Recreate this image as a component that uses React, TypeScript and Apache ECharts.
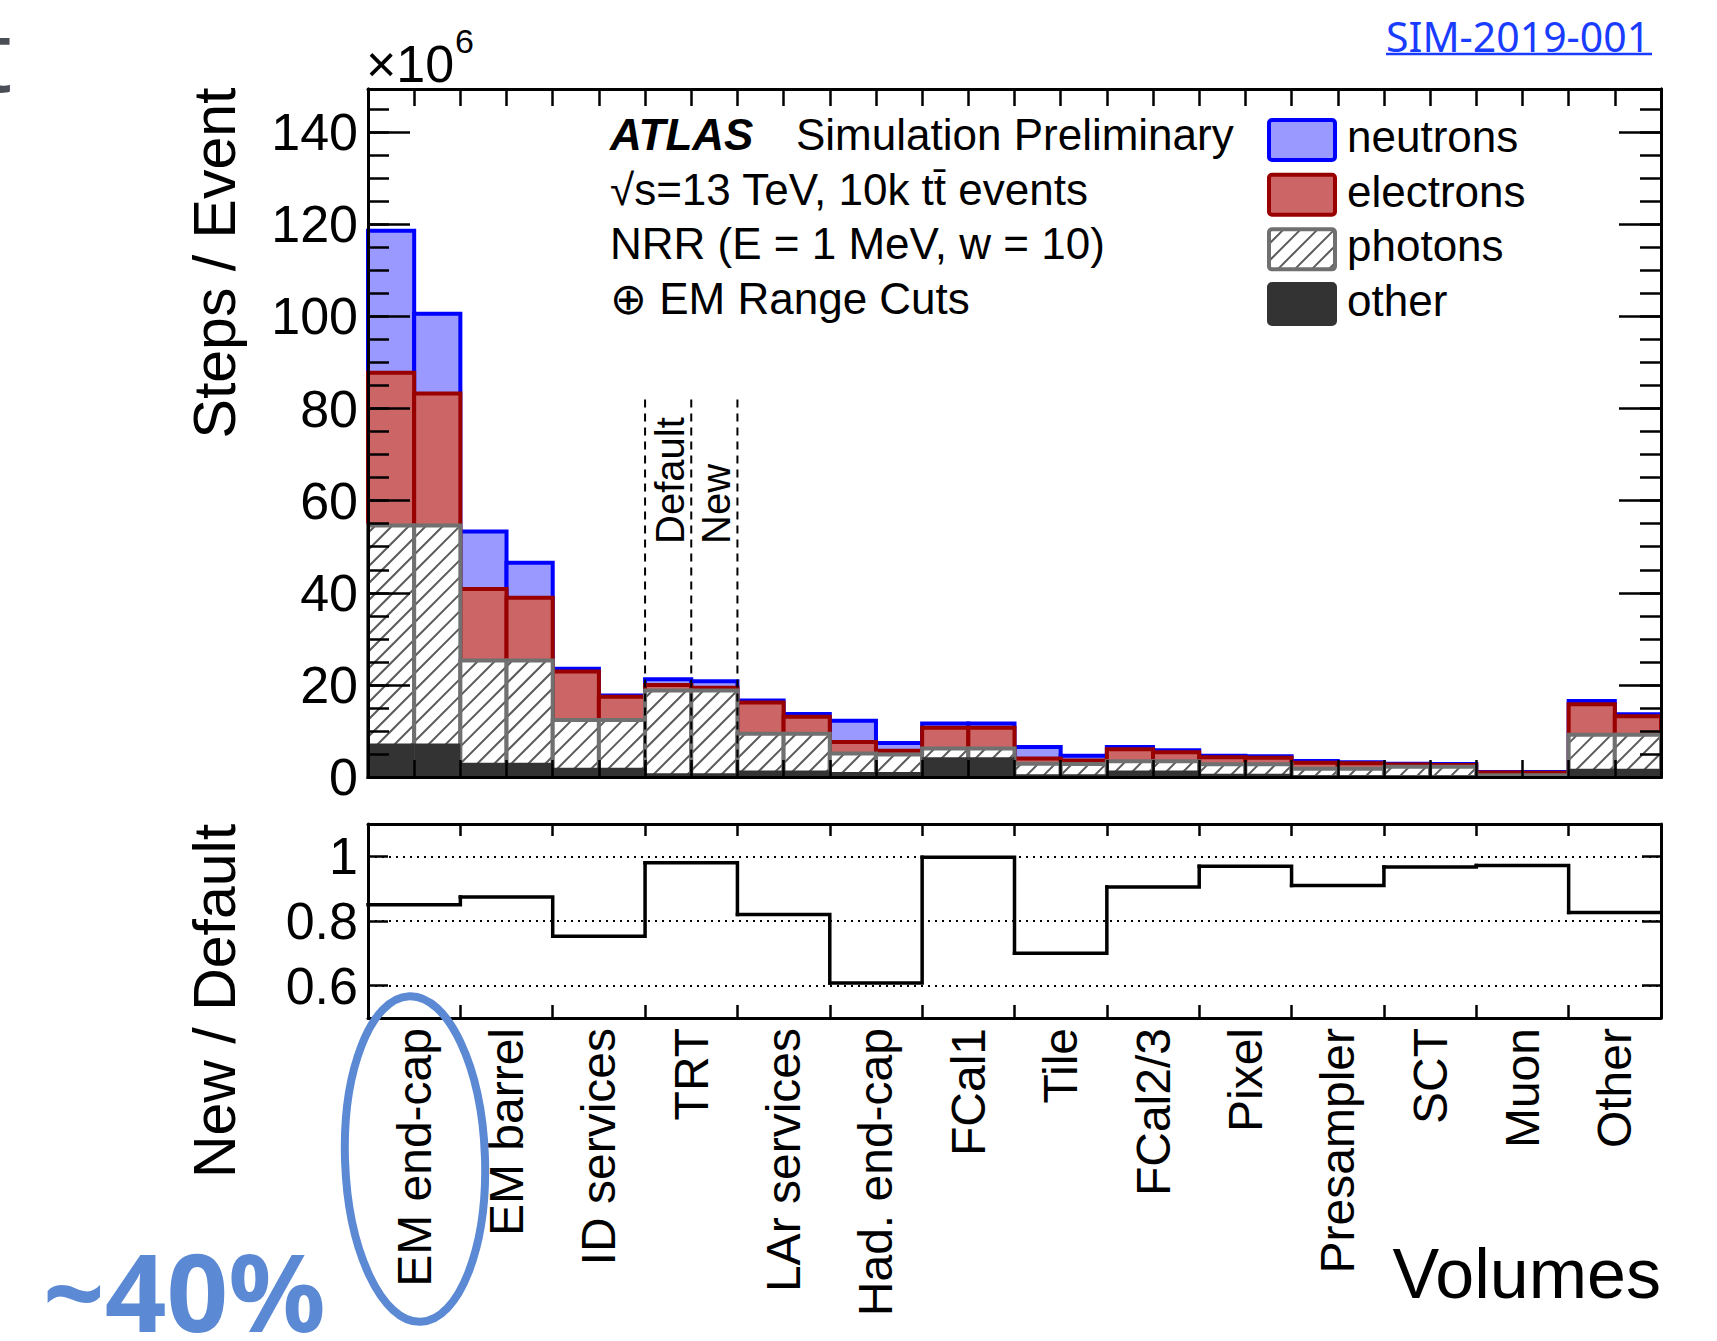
import React, { useEffect, useRef } from "react";
import * as echarts from "echarts";

// ---------- data ----------
const categories = [
  "EM end-cap", "EM barrel", "ID services", "TRT", "LAr services", "Had. end-cap", "FCal1",
  "Tile", "FCal2/3", "Pixel", "Presampler", "SCT", "Muon", "Other",
];

// Steps / Event (x10^6), two bins per volume: [Default, New] interleaved
const other = [7.3, 7.3, 3.1, 3.1, 2.0, 2.0, 0.8, 0.8, 1.4, 1.4, 1.1, 1.1, 4.3, 4.3, 0.6, 0.6, 1.4, 1.4, 0.7, 0.7, 0.4, 0.4, 0.3, 0.3, 0.2, 0.2, 1.8, 1.8];
const photons = [47.3, 47.3, 22.2, 22.2, 10.4, 10.4, 18.0, 18.0, 8.0, 8.0, 4.0, 3.8, 1.9, 1.9, 2.3, 2.2, 2.0, 2.0, 2.05, 2.05, 1.4, 1.4, 1.9, 1.9, 0.2, 0.2, 7.4, 7.4];
const electrons = [33.2, 28.7, 15.5, 13.6, 10.5, 5.0, 1.2, 0.6, 6.8, 3.7, 2.5, 0.8, 4.5, 4.5, 1.1, 0.8, 2.6, 2.0, 1.55, 1.45, 1.3, 1.2, 0.5, 0.4, 0.6, 0.55, 6.6, 4.0];
const neutrons = [30.8, 17.3, 12.5, 7.6, 0.6, 0.3, 1.2, 1.4, 0.4, 0.6, 4.6, 1.7, 0.9, 0.9, 2.5, 1.0, 0.5, 0.4, 0.3, 0.3, 0.4, 0.2, 0.2, 0.2, 0.1, 0.12, 0.7, 0.4];

// New / Default ratio per volume
const ratio = [0.85, 0.874, 0.753, 0.98, 0.82, 0.608, 0.997, 0.70, 0.905, 0.969, 0.91, 0.967, 0.972, 0.826];

// TRT Default / New marker edges (bin index) and labels
const dividerEdges = [6, 7, 8];
const dividerLabels = [
  { bin: 6, text: "Default" },
  { bin: 7, text: "New" },
];

const legendItems = [
  { label: "neutrons", fill: "#9999ff", stroke: "#0000ff", hatch: false },
  { label: "electrons", fill: "#cc6666", stroke: "#990000", hatch: false },
  { label: "photons", fill: "#ffffff", stroke: "#707070", hatch: true },
  { label: "other", fill: "#333333", stroke: "#333333", hatch: false },
];

const FONT = "'Liberation Sans', Arial, Helvetica, sans-serif";
const NOTO = "'Noto Sans', 'Open Sans', sans-serif";

function hatchLines(x0: number, y0: number, x1: number, y1: number, S: number, style: any) {
  const out: any[] = [];
  const cStart = Math.ceil((x0 + y0) / S) * S;
  for (let c = cStart; c <= x1 + y1; c += S) {
    const xa = Math.max(x0, c - y1);
    const xb = Math.min(x1, c - y0);
    if (xb - xa > 0.5) {
      out.push({ type: "line", shape: { x1: xa, y1: c - xa, x2: xb, y2: c - xb }, style });
    }
  }
  return out;
}

function buildOption(): any {
  const cumO = other.slice();
  const cumP = other.map((v, k) => v + photons[k]);
  const cumE = cumP.map((v, k) => v + electrons[k]);
  const cumN = cumE.map((v, k) => v + neutrons[k]);

  const histSeries = (name: string, tops: number[], fill: string, stroke: string, hatch: boolean, z: number, lw: number) => ({
    type: "custom",
    name,
    xAxisIndex: 0,
    yAxisIndex: 1,
    z,
    silent: true,
    data: tops.map((t, k) => [k, t]),
    renderItem: (params: any, api: any) => {
      const k = api.value(0);
      const t = api.value(1);
      const pb = api.coord([k, 0]);
      const pt = api.coord([k + 1, t]);
      const x0 = pb[0], x1 = pt[0], yT = pt[1], yB = pb[1];
      const shape = { x: x0, y: yT, width: x1 - x0, height: yB - yT };
      if (!hatch) {
        return { type: "rect", shape, style: { fill, stroke, lineWidth: lw } };
      }
      return {
        type: "group",
        children: [
          { type: "rect", shape, style: { fill: "#ffffff" } },
          ...hatchLines(x0, yT, x1, yB, 17, { stroke: "#5a5a5a", lineWidth: 2 }),
          { type: "rect", shape, style: { fill: "none", stroke, lineWidth: lw } },
        ],
      };
    },
  });

  const lineStyle = { color: "#000", width: 3 };
  const tickLine = { color: "#000", width: 2.5 };

  const upperX = (position: string) => ({
    gridIndex: 0, type: "value", min: 0, max: 28, interval: 1, position, z: 10,
    axisLine: { show: true, onZero: false, lineStyle },
    axisTick: { show: true, inside: true, length: 17, lineStyle: tickLine },
    axisLabel: { show: false }, splitLine: { show: false },
  });
  const upperY = (position: string, interval: number, len: number, labels: boolean) => ({
    gridIndex: 0, type: "value", min: 0, max: 149.4, interval, position, z: 10,
    axisLine: { show: true, onZero: false, lineStyle },
    axisTick: { show: true, inside: true, length: len, lineStyle: tickLine },
    axisLabel: labels
      ? { show: true, fontSize: 52, color: "#000", fontFamily: FONT, margin: 10, showMaxLabel: false }
      : { show: false },
    splitLine: { show: false },
  });
  const lowerX = (position: string, labels: boolean, len: number) => ({
    gridIndex: 1, type: "category", data: categories, position, z: 10,
    axisLine: { show: true, onZero: false, lineStyle },
    axisTick: { show: true, inside: true, length: len, interval: 0, alignWithLabel: false, lineStyle: tickLine },
    axisLabel: labels
      ? { show: true, rotate: 90, interval: 0, fontSize: 48, color: "#000", fontFamily: FONT, margin: 10 }
      : { show: false },
    splitLine: { show: false },
  });

  const legendEls: any[] = [];
  legendItems.forEach((it, i) => {
    const top = 120 + i * 54.67;
    const bx = 1269, bw = 66, bh = 40;
    if (it.hatch) {
      legendEls.push({ type: "rect", z: 100, shape: { x: bx, y: top, width: bw, height: bh, r: 3 }, style: { fill: "#fff" } });
      hatchLines(bx, top, bx + bw, top + bh, 17, { stroke: "#5a5a5a", lineWidth: 2 }).forEach((l) => legendEls.push({ ...l, z: 100 }));
      legendEls.push({ type: "rect", z: 100, shape: { x: bx, y: top, width: bw, height: bh, r: 3 }, style: { fill: "none", stroke: it.stroke, lineWidth: 4 } });
    } else {
      legendEls.push({ type: "rect", z: 100, shape: { x: bx, y: top, width: bw, height: bh, r: 3 }, style: { fill: it.fill, stroke: it.stroke, lineWidth: 4 } });
    }
    legendEls.push({
      type: "text", z: 100, x: 1347, y: top + bh / 2 - 3.5,
      style: { text: it.label, fontSize: 44, fontFamily: FONT, fill: "#000", align: "left", verticalAlign: "middle" },
    });
  });

  const txt = (text: string, x: number, y: number, size: number, extra: any = {}) => ({
    type: "text", z: 100, x, y,
    style: { text, fontSize: size, fontFamily: FONT, fill: "#000", align: "left", verticalAlign: "middle", ...extra },
  });

  return {
    animation: false,
    backgroundColor: "#ffffff",
    grid: [
      { left: 368, top: 89, width: 1293, height: 688, outerBoundsMode: "none" },
      { left: 368, top: 824, width: 1293, height: 194, outerBoundsMode: "none" },
    ],
    xAxis: [upperX("bottom"), upperX("top"), lowerX("bottom", true, 13), lowerX("top", false, 12)],
    yAxis: [
      upperY("left", 5, 21, false),
      upperY("left", 20, 42, true),
      upperY("right", 5, 21, false),
      upperY("right", 20, 42, false),
      {
        gridIndex: 1, type: "value", min: 0.5, max: 1.1, splitNumber: 3, position: "left", z: 10,
        axisLine: { show: true, onZero: false, lineStyle },
        axisTick: { show: true, inside: true, length: 20, lineStyle: tickLine },
        axisLabel: { show: true, fontSize: 52, color: "#000", fontFamily: FONT, margin: 10, showMinLabel: false, showMaxLabel: false },
        splitLine: { show: false },
      },
      {
        gridIndex: 1, type: "value", min: 0.5, max: 1.1, splitNumber: 3, position: "right", z: 0,
        axisLine: { show: true, onZero: false, lineStyle },
        axisTick: { show: true, inside: true, length: 19, lineStyle: tickLine },
        axisLabel: { show: false },
        splitLine: { show: true, showMinLine: false, showMaxLine: false, lineStyle: { color: "#000", width: 2, type: [2, 5] } },
      },
    ],
    series: [
      histSeries("neutrons", cumN, "#9999ff", "#0000ff", false, 2, 4),
      histSeries("electrons", cumE, "#cc6666", "#990000", false, 3, 4),
      histSeries("photons", cumP, "#ffffff", "#707070", true, 4, 4),
      histSeries("other", cumO, "#333333", "#333333", false, 5, 0),
      {
        type: "custom", name: "dividers", xAxisIndex: 0, yAxisIndex: 1, z: 6, silent: true,
        data: dividerEdges.map((e) => [e, 82]),
        renderItem: (params: any, api: any) => {
          const e = api.value(0);
          const a = api.coord([e, api.value(1)]);
          const b = api.coord([e, 0]);
          return { type: "line", shape: { x1: a[0], y1: a[1], x2: b[0], y2: b[1] }, style: { stroke: "#000", lineWidth: 2, lineDash: [8, 6] } };
        },
      },
      {
        type: "custom", name: "dividerLabels", xAxisIndex: 0, yAxisIndex: 1, z: 6, silent: true,
        data: dividerLabels.map((d) => [d.bin, 50.6]),
        renderItem: (params: any, api: any) => {
          const k = api.value(0);
          const p = api.coord([k + 1, api.value(1)]);
          return {
            type: "text", x: p[0] - 21, y: p[1], rotation: Math.PI / 2,
            style: { text: dividerLabels[params.dataIndex].text, fontSize: 40, fontFamily: FONT, fill: "#000", align: "left", verticalAlign: "middle" },
          };
        },
      },
      {
        type: "custom", name: "New / Default", xAxisIndex: 2, yAxisIndex: 4, z: 5, silent: true,
        data: ratio.map((r, i) => [i, r]),
        renderItem: (params: any, api: any) => {
          const i = params.dataIndex;
          const c = api.coord([i, api.value(1)]);
          const bw = api.size([1, 0])[0];
          const xl = c[0] - bw / 2, xr = c[0] + bw / 2;
          const pts: number[][] = [[xl, c[1]], [xr, c[1]]];
          if (i < ratio.length - 1) {
            const n = api.coord([i + 1, ratio[i + 1]]);
            pts.push([xr, n[1]]);
          }
          return { type: "polyline", shape: { points: pts }, style: { stroke: "#000", lineWidth: 3.5, fill: "none", lineJoin: "miter", lineCap: "square" } };
        },
      },
    ],
    graphic: [
      // slide artefact at the top-left corner
      { type: "text", z: 100, x: -24, y: 53, style: { text: "t", fontSize: 100, fontFamily: NOTO, fill: "#4a4e57", align: "left", verticalAlign: "middle" } },
      // reference link
      { type: "text", z: 100, x: 1386, y: 36, style: { text: "SIM-2019-001", fontSize: 41, fontFamily: NOTO, fill: "#1a3cff", align: "left", verticalAlign: "middle" } },
      { type: "line", z: 100, shape: { x1: 1386, y1: 54, x2: 1652, y2: 54 }, style: { stroke: "#1a3cff", lineWidth: 2.5 } },
      // x10^6
      txt("×10", 366, 64, 52),
      txt("6", 455, 41, 34),
      // axis titles
      { type: "text", z: 100, x: 215, y: 263, rotation: Math.PI / 2, style: { text: "Steps / Event", fontSize: 59, fontFamily: FONT, fill: "#000", align: "center", verticalAlign: "middle" } },
      { type: "text", z: 100, x: 215, y: 1001, rotation: Math.PI / 2, style: { text: "New / Default", fontSize: 59, fontFamily: FONT, fill: "#000", align: "center", verticalAlign: "middle" } },
      { type: "text", z: 100, x: 1661, y: 1274, style: { text: "Volumes", fontSize: 70, fontFamily: FONT, fill: "#000", align: "right", verticalAlign: "middle" } },
      // ATLAS label block
      txt("ATLAS", 610, 134.5, 44, { fontWeight: "bold", fontStyle: "italic" }),
      txt("Simulation Preliminary", 796, 134.5, 44),
      txt("√s=13 TeV, 10k tt\u0304 events", 610, 189.2, 44),
      txt("NRR (E = 1 MeV, w = 10)", 610, 243.9, 44),
      txt("⊕ EM Range Cuts", 610, 298.6, 44),
      ...legendEls,
      // annotation
      { type: "ellipse", z: 110, x: 415, y: 1159, rotation: 0.035, shape: { cx: 0, cy: 0, rx: 70, ry: 163 }, style: { fill: "none", stroke: "#5b89d4", lineWidth: 8 } },
      { type: "text", z: 110, x: 43, y: 1290, style: { text: "~40%", fontSize: 108, fontWeight: "bold", fontFamily: NOTO, fill: "#5b89d4", align: "left", verticalAlign: "middle" } },
    ],
  };
}

export default function App() {
  const ref = useRef<HTMLDivElement>(null);
  useEffect(() => {
    if (!ref.current) return;
    const chart = echarts.init(ref.current, undefined, { renderer: "svg" });
    chart.setOption(buildOption());
    return () => {
      chart.dispose();
    };
  }, []);
  return (
    <div
      ref={ref}
      style={{ position: "absolute", left: 0, top: 0, width: 1717, height: 1341, background: "#fff" }}
    />
  );
}
